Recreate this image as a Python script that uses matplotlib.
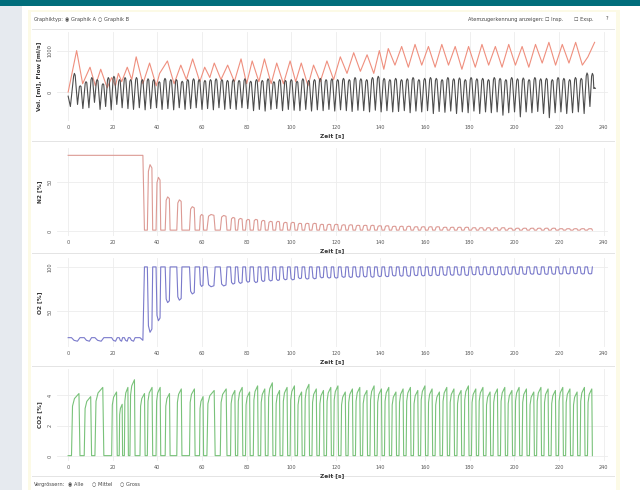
import matplotlib.pyplot as plt
from matplotlib.patches import Rectangle

# ---- breaths: start [s], end [s], CO2 peak [%]
co2_start = [1.5, 7.2, 12.0, 19.5, 22.9, 25.2, 27.7, 32.2, 35.5, 39.4, 43.5, 48.7, 54.4, 58.9, 62.2, 68.2,
             72.8, 76.0, 79.5, 83.0, 86.3, 89.6, 93.0, 96.2, 99.5, 102.8, 106.0, 109.3, 112.6, 115.8, 119.0,
             122.3, 125.5, 128.8, 132.0, 135.3, 138.5, 141.8, 145.0, 148.3, 151.5, 154.8, 158.0, 161.3, 164.5,
             167.8, 171.0, 174.3, 177.5, 180.8, 184.0, 187.3, 190.5, 193.8, 197.0, 200.3, 203.5, 206.8, 210.0,
             213.3, 216.5, 219.8, 223.0, 226.3, 229.5, 232.8]
co2_end = [5.3, 10.5, 16.0, 22.0, 24.4, 27.0, 30.0, 34.5, 37.9, 41.5, 45.7, 51.0, 56.9, 60.7, 65.9, 71.2,
           75.0, 78.3, 81.6, 85.2, 88.4, 91.8, 95.0, 98.4, 101.7, 104.9, 108.2, 111.5, 114.7, 118.0, 121.2,
           124.5, 127.7, 131.0, 134.2, 137.4, 140.7, 144.0, 147.2, 150.4, 153.7, 157.0, 160.2, 163.4, 166.7,
           170.0, 173.2, 176.4, 179.7, 183.0, 186.2, 189.4, 192.7, 196.0, 199.2, 202.4, 205.7, 209.0, 212.2,
           215.4, 218.7, 222.0, 225.2, 228.4, 231.7, 235.0]
co2_peak = [4.1, 3.9, 4.5, 4.2, 3.4, 4.5, 5.0, 4.1, 4.5, 4.5, 4.1, 4.4, 4.4, 3.9, 4.3, 4.4,
            4.3, 4.5, 4.2, 4.6, 4.4, 4.8, 4.3, 4.5, 4.6, 4.2, 4.7, 4.4, 4.3, 4.5, 4.6,
            4.2, 4.4, 4.5, 4.3, 4.6, 4.4, 4.5, 4.2, 4.4, 4.5, 4.3, 4.6, 4.4, 4.2,
            4.5, 4.4, 4.3, 4.6, 4.4, 4.5, 4.2, 4.4, 4.5, 4.3, 4.5, 4.4, 4.2, 4.5,
            4.4, 4.3, 4.5, 4.4, 4.2, 4.5, 4.4]
# N2 peak per breath after the washout start (breath 9 onward)
n2_peak = [68, 55, 35, 32, 25, 17, 17, 16,
           14, 13, 12, 12, 11, 10, 10, 9, 9, 8, 8, 8, 7, 7, 7,
           6.5, 6.5, 6, 6, 6, 5.5, 5.5, 5, 5, 5, 4.5, 4.5, 4.5, 4.5,
           4, 4, 4, 4, 3.5, 3.5, 3.5, 3.5, 3.5, 3, 3, 3, 3, 3,
           3, 3, 2.5, 2.5, 2.5, 2.5, 2.5]
washout_t = 33.7
n2_air = 77.5
o2_air = 20.5

# ---- volume (red) and flow (black) key points
red_t = [0, 3.8, 6.5, 9.8, 12.2, 14.6, 17.5, 19.5, 21.2, 22.5, 24.0, 26.5, 28.5, 30.5, 33.5, 36.5, 39.5,
         41.0, 44.5, 47.5, 50.5, 53.0, 55.8, 59.0, 61.2, 63.5, 65.5, 68.5, 71.5, 74.5, 77.5, 80.0, 82.5,
         85.5, 88.0, 91.0, 93.5, 96.5, 99.5, 102.0, 104.5, 107.5, 110.0, 113.0, 116.0, 119.0, 122.0, 125.0,
         128.0, 131.0, 134.0, 137.0, 139.5, 141.5, 143.5, 146.5, 149.5, 152.5, 155.5, 158.5, 161.5, 164.5,
         167.5, 170.5, 173.5, 176.5, 179.5, 182.5, 185.5, 188.5, 191.5, 194.5, 197.5, 200.5, 203.5, 206.5,
         209.5, 212.5, 215.5, 218.5, 221.5, 224.5, 227.5, 230.5, 233.0, 236.0]
red_v = [0, 1000, 200, 600, 150, 550, 100, 350, 150, 450, 250, 600, 300, 850, 200, 700, 150,
         450, 750, 200, 650, 300, 800, 250, 600, 350, 700, 300, 650, 250, 800, 200, 750,
         250, 800, 200, 700, 200, 750, 250, 700, 150, 650, 250, 750, 300, 850, 450,
         950, 500, 900, 450, 1000, 550, 1050, 650, 1100, 600, 1150, 650, 1100, 600,
         1150, 650, 1100, 550, 1100, 600, 1150, 650, 1100, 600, 1150, 650, 1100, 600,
         1150, 700, 1200, 650, 1150, 700, 1200, 650, 850, 1200]

black_t = [0, 1.0, 2.8, 4.2, 5.4, 6.6, 8.0, 9.3, 10.6, 11.8, 13.0, 14.3, 15.6, 16.8, 18.0, 19.3, 20.5,
           21.8, 23.0, 24.2, 25.5, 26.8, 28.0, 29.3, 30.6, 31.9, 33.2, 34.5, 35.8, 37.0, 38.3, 39.6, 40.8,
           42.1, 43.4, 44.7, 46.0, 47.3, 48.5, 49.8, 51.1, 52.4, 53.6, 54.9, 56.2, 57.4, 58.7, 60.0, 61.3,
           62.5, 63.8, 65.1, 66.3, 67.6, 68.9, 70.2, 71.4, 72.7, 74.0, 75.3, 76.6, 77.9, 79.2, 80.5, 81.8,
           83.1, 84.4, 85.7, 87.0, 88.3, 89.6, 90.9, 92.2, 93.5, 94.8, 96.1, 97.4, 98.7, 100.0, 101.3,
           102.6, 103.9, 105.2, 106.5, 107.8, 109.1, 110.4, 111.7, 113.0, 114.3, 115.6, 116.9, 118.2,
           119.5, 120.8, 122.1, 123.4, 124.7, 126.0, 127.3, 128.6, 129.9, 131.2, 132.5, 133.8, 135.1,
           136.4, 137.7, 139.0, 140.3, 141.6, 142.9, 144.2, 145.5, 146.8, 148.1, 149.4, 150.7, 152.0,
           153.3, 154.6, 155.9, 157.2, 158.5, 159.8, 161.1, 162.4, 163.7, 165.0, 166.3, 167.6, 168.9,
           170.2, 171.5, 172.8, 174.1, 175.4, 176.7, 178.0, 179.3, 180.6, 181.9, 183.2, 184.5, 185.8,
           187.1, 188.4, 189.7, 191.0, 192.3, 193.6, 194.9, 196.2, 197.5, 198.8, 200.1, 201.4, 202.7,
           204.0, 205.3, 206.6, 207.9, 209.2, 210.5, 211.8, 213.1, 214.4, 215.7, 217.0, 218.3, 219.6,
           220.9, 222.2, 223.5, 224.8, 226.1, 227.4, 228.7, 230.0, 231.3, 232.6, 233.9, 235.0, 236.0]
black_v = [-100, -350, 450, -300, 150, -400, 250, -380, 350, -250, 300, -420, 200, -350, 350, -430, 380,
           -300, 300, -380, 350, -400, 300, -420, 350, -380, 300, -430, 320, -400, 300, -380, 250,
           -420, 330, -400, 300, -430, 300, -380, 260, -420, 300, -400, 320, -380, 300, -420, 280,
           -400, 300, -430, 320, -380, 300, -420, 280, -400, 300, -420, 280, -380, 320, -400, 260,
           -450, 300, -420, 280, -460, 320, -420, 250, -400, 300, -450, 280, -420, 300, -440,
           260, -450, 320, -420, 280, -460, 300, -430, 330, -450, 300, -420, 320,
           -460, 300, -430, 330, -450, 300, -470, 350, -440, 320, -450, 300, -480,
           350, -440, 380, -480, 330, -450, 300, -480, 330, -470, 300, -450, 320,
           -500, 350, -460, 300, -480, 330, -450, 350, -520, 330, -470, 300, -490,
           350, -460, 320, -520, 340, -480, 300, -500, 350, -460, 320, -520, 330,
           -480, 300, -500, 350, -480, 330, -560, 300, -500, 350, -480, 320, -600,
           340, -480, 300, -500, 350, -470, 320, -520, 330, -620, 300, -500, 350,
           -480, 330, -520, 300, -500, 350, -480, 330, -520, 460, -350, 450, 100]

xticks = list(range(0, 241, 20))

# flow humps are drawn with a short rounded top, troughs stay sharp
flow_t, flow_v = [], []
for t, v in zip(black_t, black_v):
    if v > 0:
        flow_t += [t - 0.35, t, t + 0.35]
        flow_v += [0.85 * v, v, 0.9 * v]
    else:
        flow_t.append(t)
        flow_v.append(v)

# ---- build the gas traces from the breath table
co2_t, co2_v = [0], [0.05]
n2_t, n2_v = [0], [n2_air]
o2_t, o2_v = [0], [o2_air]
k = 0
for s, e, p in zip(co2_start, co2_end, co2_peak):
    d = e - s
    co2_t += [s, s + 0.12 * d, s + 0.35 * d, e - 0.12 * d, e]
    co2_v += [0.05, 0.8 * p, 0.92 * p, p, 0.05]
    if e < washout_t:
        o2_t += [s, s + 0.3 * d, e - 0.3 * d, e]
        o2_v += [o2_air, 17.5, 16.5, o2_air]
    elif s < washout_t:
        n2_t += [washout_t - 0.2, washout_t + 0.5]
        n2_v += [n2_air, 1.0]
        o2_t += [s, washout_t - 0.2, washout_t + 0.5]
        o2_v += [o2_air, 17.5, 100]
    else:
        pk = n2_peak[k]
        k += 1
        n2_t += [s, s + 0.2 * d, s + 0.5 * d, e - 0.15 * d, e]
        n2_v += [1.0, 0.9 * pk, pk, 0.95 * pk, 1.0]
        low = 100 - pk - p - 1
        o2_t += [s, s + 0.2 * d, s + 0.5 * d, e - 0.15 * d, e]
        o2_v += [100, low + 0.1 * (100 - low), low, low + 0.05 * (100 - low), 100]

# ---- figure
fig = plt.figure(figsize=(6.4, 4.9), dpi=100)


def box(x0, y0, x1, y1):
    return [x0 / 640, 1 - y1 / 490, (x1 - x0) / 640, (y1 - y0) / 490]


def rect(x0, y0, x1, y1, color, z=0):
    b = box(x0, y0, x1, y1)
    fig.add_artist(Rectangle((b[0], b[1]), b[2], b[3], transform=fig.transFigure,
                             facecolor=color, edgecolor='none', zorder=z))


rect(0, 0, 640, 490, 'white')
rect(0, 0, 22, 490, '#e6eaef')
rect(0, 0, 640, 6, '#006d7b')
rect(28, 10, 620, 490, '#fcfae6')
rect(31, 12, 616, 490, 'white')
for yy in [29, 141, 253, 366, 476]:
    rect(32, yy, 615, yy + 1, '#e4e4e4')

small = dict(fontsize=3.6, color='#444444', va='center')
fig.text(34 / 640, 1 - 19 / 490, 'Graphiktyp:', **small)
fig.text(65 / 640, 1 - 19 / 490, '\u25c9 Graphik A', **small)
fig.text(98 / 640, 1 - 19 / 490, '\u25cb Graphik B', **small)
fig.text(468 / 640, 1 - 19 / 490, 'Atemzugerkennung anzeigen:', **small)
fig.text(545 / 640, 1 - 19 / 490, '\u2610 Insp.', **small)
fig.text(574 / 640, 1 - 19 / 490, '\u2610 Exsp.', **small)
fig.text(606 / 640, 1 - 19 / 490, '?', **small)
fig.text(34 / 640, 1 - 484 / 490, 'Vergr\u00f6ssern:', **small)
fig.text(68 / 640, 1 - 484 / 490, '\u25c9 Alle', **small)
fig.text(92 / 640, 1 - 484 / 490, '\u25cb Mittel', **small)
fig.text(120 / 640, 1 - 484 / 490, '\u25cb Gross', **small)


def style(ax, ylim, yticks, ylabel):
    ax.set_xlim(-5, 242)
    ax.set_ylim(*ylim)
    ax.set_xticks(xticks)
    ax.set_yticks(yticks)
    ax.set_facecolor('none')
    for sp in ax.spines.values():
        sp.set_visible(False)
    ax.grid(True, color='#ececec', lw=0.6)
    ax.set_axisbelow(True)
    ax.tick_params(length=0, labelsize=3.6, labelcolor='#555555', pad=3)
    ax.set_xlabel('Zeit [s]', fontsize=4.2, fontweight='bold', color='#333333', labelpad=2)
    ax.set_ylabel(ylabel, fontsize=4.2, fontweight='bold', color='#333333', labelpad=4)
    for lab in ax.get_yticklabels():
        lab.set_rotation(90)
        lab.set_va('center')


ax1 = fig.add_axes(box(57, 32, 608, 121))
ax1.plot(red_t, red_v, color='#ef8f7e', lw=0.8)
ax1.plot(flow_t, flow_v, color='#4d4d4d', lw=0.8)
style(ax1, (-700, 1450), [0, 1000], 'Vol. [ml], Flow [ml/s]')

ax2 = fig.add_axes(box(57, 148, 608, 236))
ax2.plot(n2_t, n2_v, color='#dc9a94', lw=0.8)
style(ax2, (-5, 85), [0, 50], 'N2 [%]')

ax3 = fig.add_axes(box(57, 258, 608, 347))
ax3.plot(o2_t, o2_v, color='#7a7acb', lw=0.8)
style(ax3, (10, 110), [50, 100], 'O2 [%]')

ax4 = fig.add_axes(box(57, 369, 608, 461))
ax4.plot(co2_t, co2_v, color='#79c27a', lw=0.8)
style(ax4, (-0.3, 5.7), [0, 2, 4], 'CO2 [%]')

fig.savefig('out.png', dpi=100)
